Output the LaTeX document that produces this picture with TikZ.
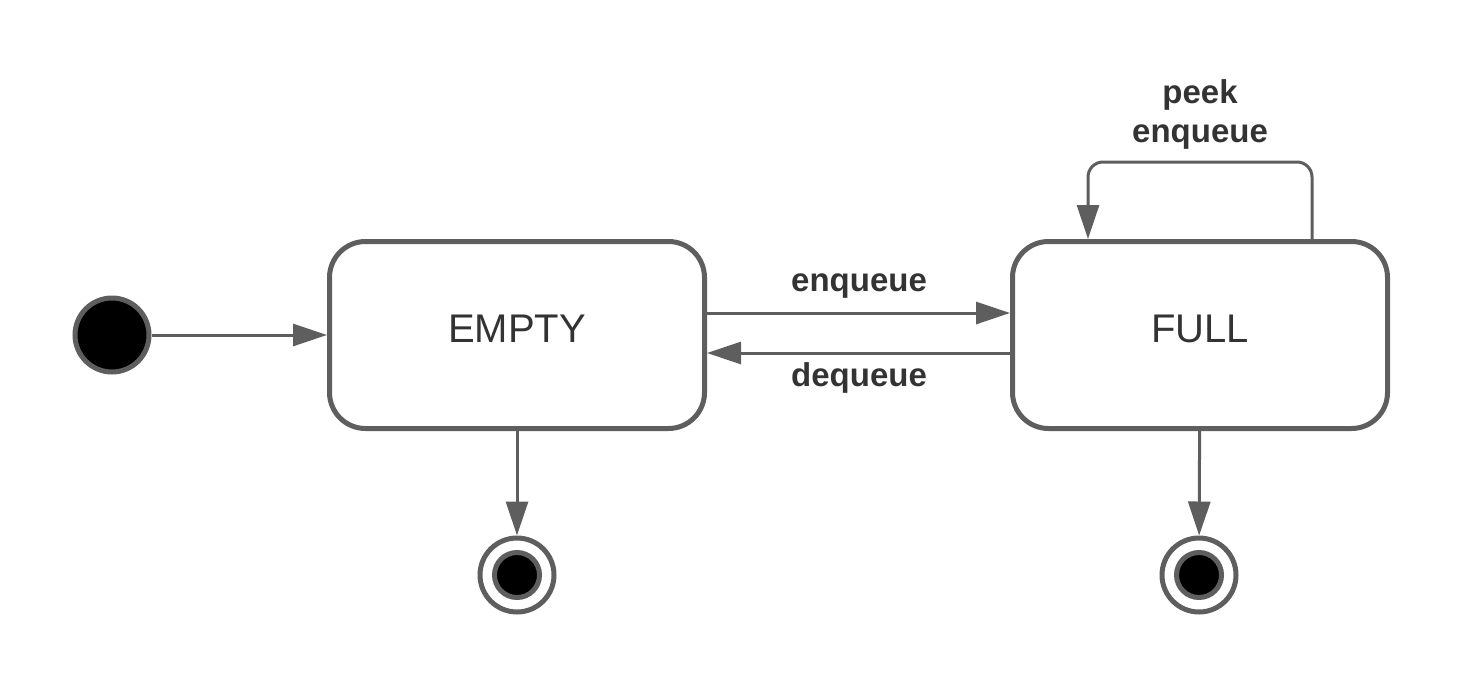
\documentclass[tikz,border=0pt]{standalone}
\usepackage{fontspec}
\setmainfont{Liberation Sans}
\usepackage{tikz}
\usetikzlibrary{arrows.meta}

\definecolor{lineGray}{RGB}{94,94,94}
\definecolor{textGray}{RGB}{51,51,51}

\tikzset{
  state/.style={draw=lineGray, line width=5pt, rounded corners=36pt, fill=white,
    minimum width=375pt, minimum height=187pt, text=textGray, text depth=12pt,
    font=\fontsize{40}{48}\selectfont},
  initdot/.style={circle, draw=lineGray, line width=5pt, fill=black, minimum size=74pt, inner sep=0pt},
  endring/.style={circle, draw=lineGray, line width=5pt, fill=white, minimum size=74pt, inner sep=0pt},
  enddot/.style={circle, draw=lineGray, line width=5pt, fill=black, minimum size=45pt, inner sep=0pt},
  conn/.style={draw=lineGray, line width=3pt, -{Triangle[length=34pt,width=22pt]}},
  trans/.style={text=textGray, inner sep=0pt, align=center,
    font=\fontsize{33}{39}\selectfont\bfseries}
}

\begin{document}
\begin{tikzpicture}[x=1pt,y=1pt,yscale=-1,xscale=1]
        \useasboundingbox (0,0) rectangle (1463,688);

        % States
        \node [initdot] (init) at (112,335) {};
        \node [state] (empty) at (517,335) {EMPTY};
        \node [state] (full) at (1200,335) {FULL};
        \node [endring] (endE) at (517,575) {};
        \node [enddot] (endEdot) at (endE.center) {};
        \node [endring] (endF) at (1199,575) {};
        \node [enddot] (endFdot) at (endF.center) {};

        %Straight Lines
        \draw [conn] (init) -- (empty);
        %Straight Lines
        \draw [conn] ([yshift=-22pt]empty.east) -- ([yshift=-22pt]full.west);
        %Straight Lines
        \draw [conn] ([yshift=18pt]full.west) -- ([yshift=18pt]empty.east);
        %Self Loop
        \draw [conn, rounded corners=15pt] ([xshift=112pt]full.north) -- ++(0,-77) -| ([xshift=-112pt]full.north);
        %Straight Lines
        \draw [conn] (empty) -- (endE);
        %Straight Lines
        \draw [conn] (full) -- (endF);

        % Text Node
        \node [trans] (lblEnq) at (859,286) {enqueue};
        % Text Node
        \node [trans] (lblDeq) at (859,378) {dequeue};
        % Text Node
        \node [trans] (lblLoop) at (1200,114) {peek\\enqueue};
\end{tikzpicture}
\end{document}
